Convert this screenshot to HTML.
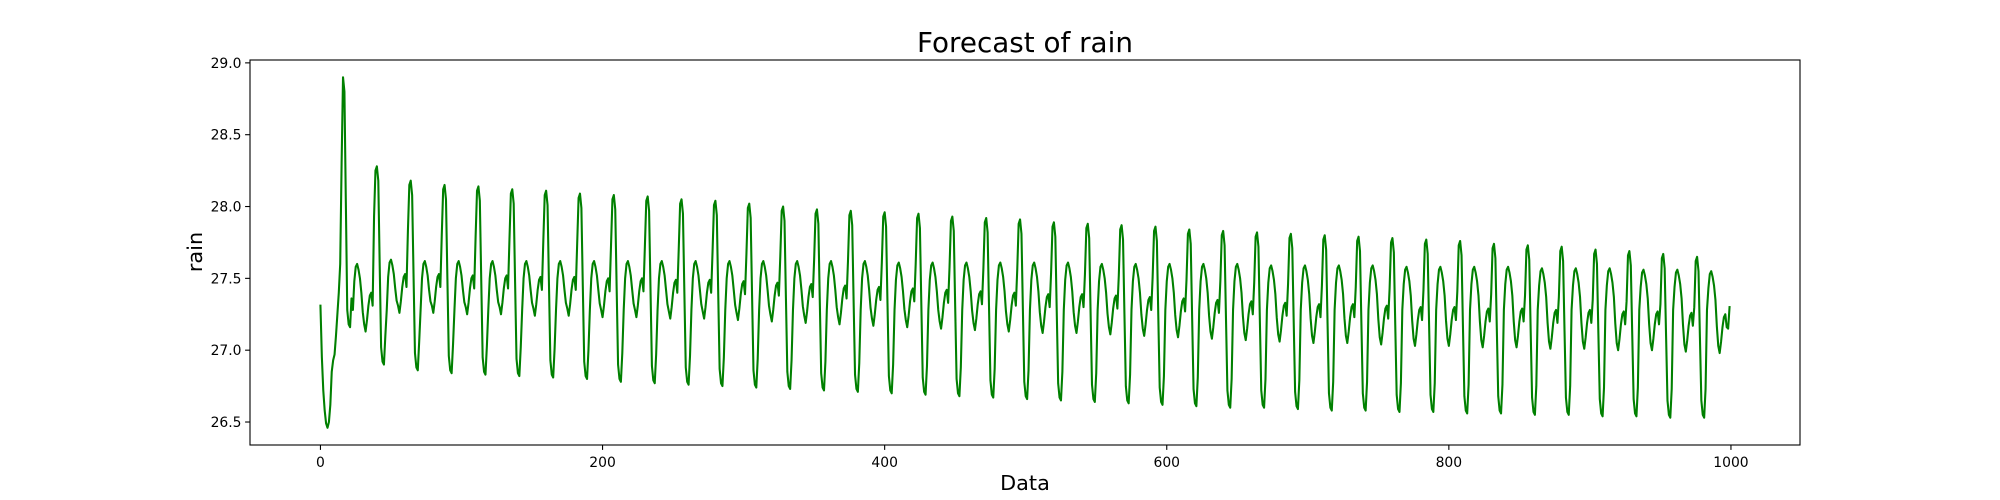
<!DOCTYPE html>
<html><head><meta charset="utf-8"><style>
html,body{margin:0;padding:0;background:#fff;}
svg{display:block;font-family:"DejaVu Sans","Liberation Sans",sans-serif;}
</style></head><body>
<svg id="chart" width="2000" height="500" viewBox="0 0 2000 500">
<rect x="0" y="0" width="2000" height="500" fill="#fff"/>
<text x="1025" y="52" font-size="27.8" text-anchor="middle" fill="#000">Forecast of rain</text>
<g id="plot"></g>
<text x="1025" y="490" font-size="20.8" text-anchor="middle" fill="#000">Data</text>
<text x="0" y="0" font-size="20.8" text-anchor="middle" fill="#000" transform="translate(202,252) rotate(-90)">rain</text>
</svg>
<script>
// ---- data ----
const head = [27.31,26.95,26.72,26.58,26.49,26.46,26.5,26.62,26.85,26.93,26.97,27.1,27.25,27.4,27.6,28.3];
const peaks = [28.9,28.28,28.18,28.15,28.14,28.12,28.11,28.09,28.08,28.07,28.05,28.04,28.02,28.0,27.98,27.97,27.96,27.95,27.93,27.92,27.91,27.89,27.88,27.87,27.86,27.84,27.83,27.82,27.81,27.8,27.79,27.78,27.77,27.76,27.74,27.73,27.72,27.7,27.69,27.67,27.65];
const troughs = [27.16,26.9,26.86,26.84,26.83,26.82,26.81,26.8,26.78,26.77,26.76,26.75,26.74,26.73,26.72,26.71,26.7,26.69,26.68,26.67,26.66,26.65,26.64,26.63,26.62,26.61,26.6,26.6,26.59,26.58,26.58,26.57,26.57,26.56,26.56,26.55,26.55,26.54,26.54,26.53,26.53];
const humps = [27.6,27.63,27.62,27.62,27.62,27.62,27.62,27.62,27.62,27.62,27.62,27.62,27.62,27.62,27.62,27.62,27.61,27.61,27.61,27.61,27.61,27.61,27.6,27.6,27.6,27.6,27.6,27.59,27.59,27.59,27.59,27.58,27.58,27.58,27.58,27.57,27.57,27.57,27.56,27.56,27.55];
const dips = [27.13,27.26,27.26,27.25,27.25,27.24,27.24,27.23,27.23,27.22,27.22,27.21,27.2,27.19,27.18,27.17,27.16,27.15,27.14,27.13,27.12,27.12,27.11,27.1,27.09,27.08,27.07,27.06,27.05,27.05,27.04,27.03,27.03,27.02,27.02,27.01,27.01,27.0,27.0,26.99,26.98];
const xTicks = [0,200,400,600,800,1000];
const yTicks = [26.5,27.0,27.5,28.0,28.5,29.0];
const yTickLabels = ["26.5","27.0","27.5","28.0","28.5","29.0"];
// cycle shape: which feature each step of a 24-step cycle follows, plus offset
const shapeRef = ['P','P','PT','T','T','T','T','M','H','H','H','H','H','H','HD','D','D','D','D','D','D','D','P','P'];
const shapeOff = [0,-0.1,0,0.12,0.02,0,0.2,27.28,-0.12,-0.02,0,-0.04,-0.1,-0.2,-0.1,0.05,0,0.08,0.18,0.25,0.27,0.18,-0.35,-0.03];

const N = 1000;
const rain = head.slice();
for (let k = 0; k < peaks.length; k++) {
  for (let o = 0; o < 24; o++) {
    if (rain.length >= N) break;
    const r = shapeRef[o], d = shapeOff[o];
    const kn = Math.min(k + 1, peaks.length - 1);
    let v;
    if (r === 'P') v = (o > 20 ? peaks[kn] : peaks[k]) + d;
    else if (r === 'T') v = troughs[k] + d;
    else if (r === 'PT') v = (peaks[k] + troughs[k]) / 2 + d;
    else if (r === 'H') v = humps[k] + d;
    else if (r === 'D') v = dips[k] + d;
    else if (r === 'HD') v = (humps[k] + dips[k]) / 2 + d;
    else v = d;
    rain.push(v);
  }
}
if (rain.length === N) { rain[N-2] = 27.15; rain[N-1] = 27.3; }

// ---- axes ----
const L = 250, R = 1800, T = 60, B = 445;
const xMin = -49.95, xMax = 1048.95, yMin = 26.34, yMax = 29.02;
const sx = v => L + (v - xMin) / (xMax - xMin) * (R - L);
const sy = v => B - (v - yMin) / (yMax - yMin) * (B - T);
const NS = 'http://www.w3.org/2000/svg';
const g = document.getElementById('plot');
function mk(tag, attrs) { const e = document.createElementNS(NS, tag); for (const a in attrs) e.setAttribute(a, attrs[a]); return e; }

let d = '';
rain.forEach((v, i) => { d += (i ? 'L' : 'M') + sx(i).toFixed(2) + ',' + sy(v).toFixed(2); });
const line = mk('path', {d: d, fill: 'none', stroke: '#008000', 'stroke-width': 2.08, 'stroke-linejoin': 'round', 'stroke-linecap': 'square'});


g.appendChild(line);

const frame = mk('rect', {x: L, y: T, width: R - L, height: B - T, fill: 'none', stroke: '#000', 'stroke-width': 1.1});


g.appendChild(frame);

xTicks.forEach(t => {
  const x = sx(t);
  const tk = mk('line', {x1: x, x2: x, y1: B, y2: B + 4.9, stroke: '#000', 'stroke-width': 1.1});
  
  
  g.appendChild(tk);
  const lb = mk('text', {x: x, y: B + 22, 'font-size': 13.9, 'text-anchor': 'middle', fill: '#000'});
  lb.textContent = String(t);
  
  
  g.appendChild(lb);
});
yTicks.forEach((t, i) => {
  const y = sy(t);
  const tk = mk('line', {x1: L - 4.9, x2: L, y1: y, y2: y, stroke: '#000', 'stroke-width': 1.1});
  
  
  g.appendChild(tk);
  const lb = mk('text', {x: L - 8.5, y: y + 5, 'font-size': 13.9, 'text-anchor': 'end', fill: '#000'});
  lb.textContent = yTickLabels[i];
  
  
  g.appendChild(lb);
});
</script>
</body></html>
